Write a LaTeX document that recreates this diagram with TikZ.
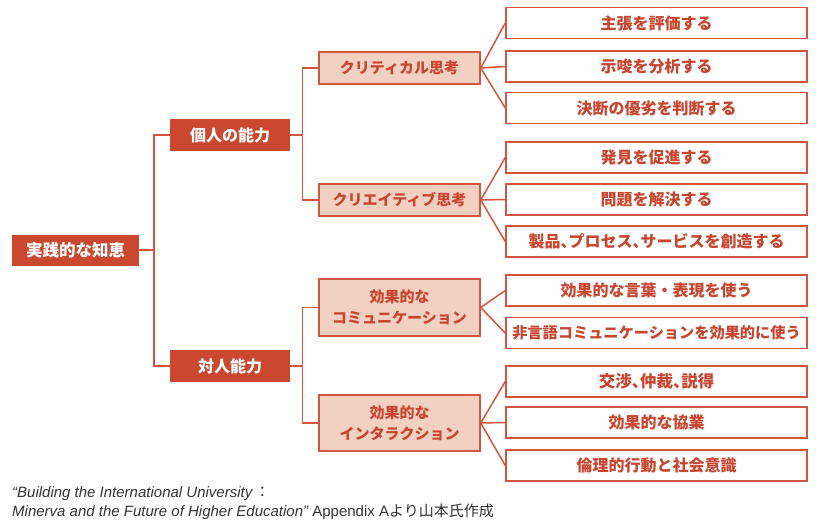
\documentclass[tikz,border=0pt]{standalone}
\usepackage{fontspec}
\setmainfont{Noto Sans CJK JP}
\newfontfamily\jp{Noto Sans CJK JP}
\newfontfamily\jph{Noto Sans CJK JP}[RawFeature=+halt]
\newfontfamily\lat{Liberation Sans}
\newcommand\hcomma{{\jph 、}}
\definecolor{dark}{HTML}{C9482F}
\definecolor{pink}{HTML}{F2D1C3}
\definecolor{edge}{HTML}{D2553F}
\definecolor{txt}{HTML}{C8452F}
\definecolor{cap}{HTML}{333333}
\begin{document}
\begin{tikzpicture}[x=1pt,y=-1pt,
  rootbox/.style={draw=none,fill=dark,text=white,font=\jp\bfseries\fontsize{16.5}{20}\selectfont,minimum width=127pt,minimum height=31pt,inner sep=0pt},
  lonebox/.style={draw=none,fill=dark,text=white,font=\jp\bfseries\fontsize{16}{20}\selectfont,minimum width=120pt,minimum height=32pt,inner sep=0pt},
  ltwobox/.style={draw=edge,line width=1.5pt,fill=pink,text=txt,font=\jp\bfseries\fontsize{15}{21}\selectfont,minimum width=161pt,minimum height=32pt,inner sep=0pt,align=center},
  leafbox/.style={draw=edge,line width=1.5pt,fill=white,text=txt,font=\jp\bfseries\fontsize{16}{20}\selectfont,minimum width=301pt,minimum height=31pt,inner sep=0pt},
  conn/.style={draw=edge,line width=1.5pt}]
\useasboundingbox (0,0) rectangle (827,527);
\node[rootbox] (root) at (75.5,250) {実践的な知恵};
\node[lonebox] (ind) at (230,135) {個人の能力};
\node[lonebox] (inter) at (230,366) {対人能力};
\node[ltwobox] (crit) at (399.5,68) {クリティカル思考};
\node[ltwobox] (crea) at (399.5,200) {クリエイティブ思考};
\node[ltwobox,minimum height=57pt] (comm) at (399.5,307.5) {効果的な\\コミュニケーション};
\node[ltwobox,minimum height=56pt] (intr) at (399.5,423) {効果的な\\インタラクション};
\node[leafbox] (a1) at (656.5,23) {主張を評価する};
\node[leafbox] (a2) at (656.5,66.5) {示唆を分析する};
\node[leafbox] (a3) at (656.5,108) {決断の優劣を判断する};
\node[leafbox] (b1) at (656.5,157.5) {発見を促進する};
\node[leafbox] (b2) at (656.5,199.5) {問題を解決する};
\node[leafbox] (b3) at (656.5,241.5) {製品\hcomma プロセス\hcomma サービスを創造する};
\node[leafbox] (c1) at (656.5,290.5) {効果的な言葉・表現を使う};
\node[leafbox,font=\jp\bfseries\fontsize{15.2}{20}\selectfont] (c2) at (656.5,333) {非言語コミュニケーションを効果的に使う};
\node[leafbox,font=\jp\bfseries\fontsize{16.5}{20}\selectfont] (d1) at (656.5,381.5) {交渉\hcomma 仲裁\hcomma 説得};
\node[leafbox] (d2) at (656.5,422.5) {効果的な協業};
\node[leafbox] (d3) at (656.5,465.5) {倫理的行動と社会意識};
% level 0 -> 1
\draw[conn] (ind.west) -- ++(-16,0) coordinate (j0) |- (inter.west);
\draw[conn] (root.east) -- (root.east -| j0);
% level 1 -> 2
\draw[conn] (crit.west) -- ++(-16,0) coordinate (j1) |- (crea.west);
\draw[conn] (ind.east) -- (ind.east -| j1);
\draw[conn] (comm.west) -- ++(-16,0) coordinate (j2) |- (intr.west);
\draw[conn] (inter.east) -- (inter.east -| j2);
% level 2 -> 3
\foreach \p/\c in {crit/a1,crit/a2,crit/a3,crea/b1,crea/b2,crea/b3,comm/c1,comm/c2,intr/d1,intr/d2,intr/d3}
  \draw[conn] (\p.east) -- (\c.west);
% caption
\node[anchor=base west,inner sep=0pt,text=cap,font=\lat\itshape\fontsize{15}{17}\selectfont] (cap1) at (12,497) {“Building the International University\,{\jp\upshape ：}};
\node[anchor=base west,inner sep=0pt,text=cap,font=\lat\fontsize{15}{17}\selectfont] (cap2) at (12,516) {{\itshape Minerva and the Future of Higher Education”} Appendix A{\jp より山本氏作成}};
\end{tikzpicture}
\end{document}
